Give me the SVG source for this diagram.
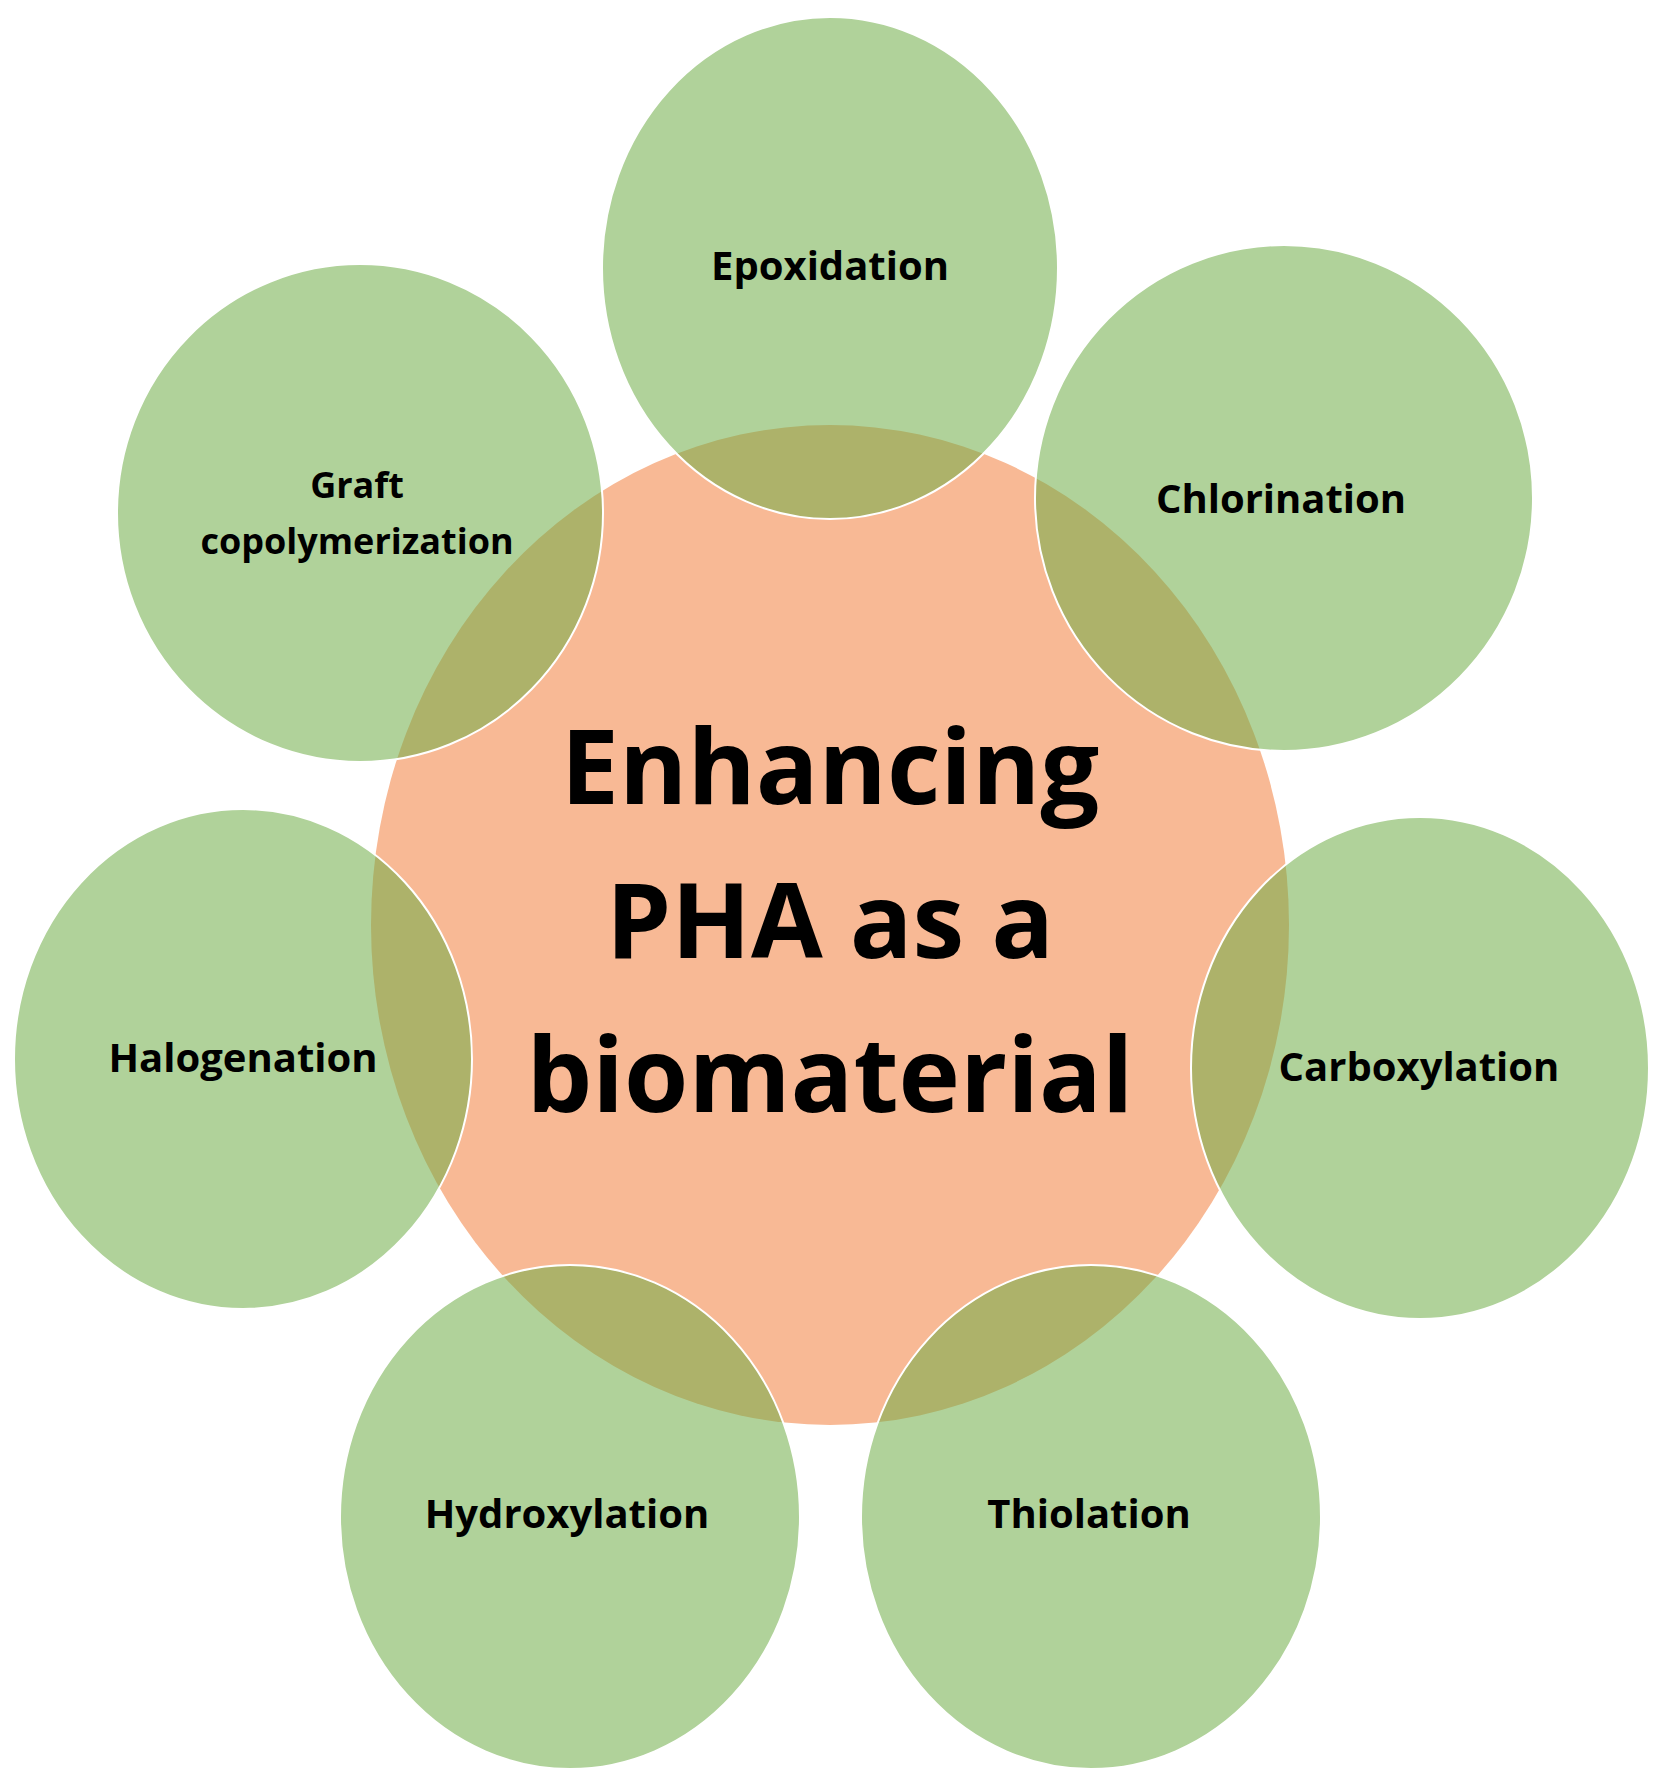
<svg xmlns="http://www.w3.org/2000/svg" width="1672" height="1781" viewBox="0 0 1672 1781">
<style>
.g{fill:rgb(112,173,71);fill-opacity:0.55;stroke:#fff;stroke-width:2}
.t{font-family:"Open Sans","Liberation Sans",sans-serif;font-weight:bold;font-size:40px;fill:#000;text-anchor:middle}
.m{font-family:"Open Sans","Liberation Sans",sans-serif;font-weight:bold;font-size:104px;fill:#000;text-anchor:middle}
</style>
<rect width="1672" height="1781" fill="#fff"/>
<g id="center"><ellipse cx="830" cy="925" rx="459" ry="500" fill="#f8b995"/></g>
<g id="epoxidation"><ellipse class="g" cx="830" cy="268" rx="228" ry="251"/><text class="t" x="830" y="280">Epoxidation</text></g>
<g id="chlorination"><ellipse class="g" cx="1284" cy="498" rx="249" ry="253"/><text class="t" x="1281" y="513">Chlorination</text></g>
<g id="carboxylation"><ellipse class="g" cx="1420" cy="1068" rx="229" ry="251"/><text class="t" x="1419" y="1081">Carboxylation</text></g>
<g id="thiolation"><ellipse class="g" cx="1091" cy="1517" rx="230" ry="252"/><text class="t" x="1089" y="1528">Thiolation</text></g>
<g id="hydroxylation"><ellipse class="g" cx="570" cy="1517" rx="230" ry="252"/><text class="t" x="567" y="1528">Hydroxylation</text></g>
<g id="halogenation"><ellipse class="g" cx="243" cy="1059" rx="229" ry="250"/><text class="t" x="243" y="1072">Halogenation</text></g>
<g id="graft"><ellipse class="g" cx="360" cy="513" rx="243" ry="249"/><text class="t" x="357" y="498" style="font-size:36px">Graft</text><text class="t" x="357" y="554" style="font-size:36px">copolymerization</text></g>
<g id="center-label"><text class="m" x="830" y="804">Enhancing</text><text class="m" x="830" y="958">PHA as a</text><text class="m" x="830" y="1112">biomaterial</text></g>
<g id="connectors"/>
</svg>
